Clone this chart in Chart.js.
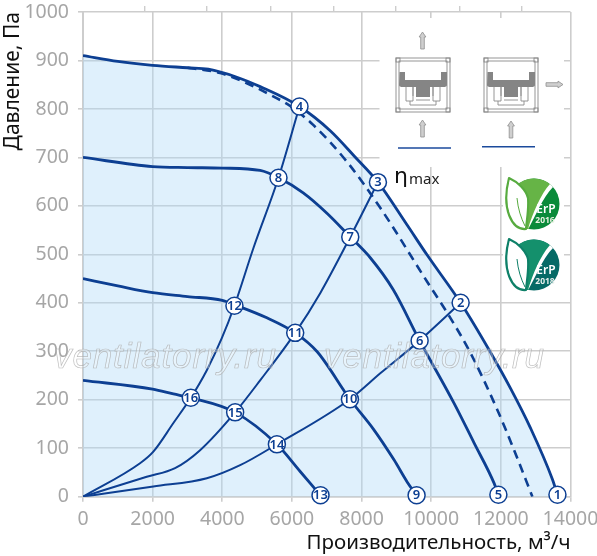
<!DOCTYPE html>
<html>
<head>
<meta charset="utf-8">
<style>
  body { margin: 0; background: #fff; }
  #wrap { position: relative; width: 597px; height: 556px; overflow: hidden; }
  canvas { position: absolute; left: 0; top: 0; }
  svg { position: absolute; left: 0; top: 0; }
</style>
<script src="https://cdn.jsdelivr.net/npm/chart.js@4/dist/chart.umd.min.js"></script>
</head>
<body>
<div id="wrap">
  <canvas id="grafico" width="597" height="556"></canvas>
  <svg width="597" height="556" viewBox="0 0 597 556">
    <defs>
      <g id="arrowUp">
        <path d="M-1.8 17 V5 H-3.4 L0 0 L3.4 5 H1.8 V17 Z" fill="#cfcfcf" stroke="#8f8f8f" stroke-width="0.8"/>
      </g>
      <g id="unit" fill="none" stroke="#8a8a8a" stroke-width="0.9">
        <rect x="0" y="0" width="54" height="54"/>
        <rect x="3" y="3" width="48" height="48"/>
        <rect x="0" y="0" width="4" height="4"/><rect x="50" y="0" width="4" height="4"/>
        <rect x="0" y="50" width="4" height="4"/><rect x="50" y="50" width="4" height="4"/>
        <path d="M10 29 V43 H17 V29 M17 29 V38 M44 29 V43 H37 V29 M37 29 V38 M14 43 V47 H40 V43 M20 42 H34"/>
        <path d="M3.5 14 H9 V22 H45 V14 H51 V27 Q51 29 47 29 H34 V39 H20 V29 H7 Q3 29 3 27 Z" fill="#858585" stroke="none"/>
      </g>
    </defs>

    <!-- esquemas de montaje -->
    <use href="#unit" x="396" y="58"/>
    <use href="#unit" x="484" y="58"/>
    <use href="#arrowUp" x="422.5" y="32"/>
    <use href="#arrowUp" x="422.5" y="120"/>
    <use href="#arrowUp" x="511" y="121"/>
    <use href="#arrowUp" transform="translate(563 84.5) rotate(90)"/>
    <line x1="398" y1="148" x2="451" y2="148" stroke="#1b4a9c" stroke-width="1.6"/>
    <line x1="482" y1="146.7" x2="535" y2="146.7" stroke="#1b4a9c" stroke-width="1.6"/>

    <!-- eta max -->
    <text x="394" y="183" font-family="'DejaVu Sans'" font-size="22" fill="#111">η</text>
    <text x="409" y="184" font-family="'Noto Sans'" font-size="15" fill="#222">max</text>

    <!-- ErP 2016 -->
    <g transform="translate(534 204)">
      <circle r="25.5" fill="#0a8a3a"/>
      <path d="M-18 -18 A25.5 25.5 0 0 1 17 -19 C8 -10 1 6 -5 25 L-9 25 Z" fill="#66b446"/>
      <path d="M16 -20 C7 -10 -1 8 -6 25 C2 12 8 -6 19 -17 Z" fill="#fff"/>
      <path d="M-25 -26 C-16 -22 -8 -14 -6 -6 C-5 4 -7 14 -8 25 C-22 26 -33 5 -25 -26 Z" fill="#fff" stroke="#57ab3f" stroke-width="2.2" stroke-linejoin="round"/>
      <path d="M-17 -6 C-16 5 -13 14 -9 22" fill="none" stroke="#57ab3f" stroke-width="1"/>
      <text x="12" y="9" text-anchor="middle" font-family="'Noto Sans'" font-weight="600" font-size="12" fill="#fff">ErP</text>
      <text x="11" y="19" text-anchor="middle" font-family="'Noto Sans'" font-weight="700" font-size="8.5" fill="#e8f2e0">2016</text>
    </g>
    <!-- ErP 2018 -->
    <g transform="translate(534 265)">
      <circle r="25.5" fill="#066a66"/>
      <path d="M-18 -18 A25.5 25.5 0 0 1 17 -19 C8 -10 1 6 -5 25 L-9 25 Z" fill="#14906c"/>
      <path d="M16 -20 C7 -10 -1 8 -6 25 C2 12 8 -6 19 -17 Z" fill="#fff"/>
      <path d="M-25 -26 C-16 -22 -8 -14 -6 -6 C-5 4 -7 14 -8 25 C-22 26 -33 5 -25 -26 Z" fill="#fff" stroke="#0e8068" stroke-width="2.2" stroke-linejoin="round"/>
      <path d="M-17 -6 C-16 5 -13 14 -9 22" fill="none" stroke="#0e8068" stroke-width="1"/>
      <text x="12" y="9" text-anchor="middle" font-family="'Noto Sans'" font-weight="600" font-size="12" fill="#fff">ErP</text>
      <text x="11" y="19" text-anchor="middle" font-family="'Noto Sans'" font-weight="700" font-size="8.5" fill="#e6efec">2018</text>
    </g>

    <!-- marca de agua -->
    <g font-family="'Liberation Sans'" font-style="italic" font-size="35" fill="rgba(255,255,255,0.25)" stroke="#a9a9a9" stroke-width="0.7" stroke-opacity="0.75">
      <text x="54" y="368" textLength="222">ventilatorry.ru</text>
      <text x="324" y="368" textLength="220">ventilatorry.ru</text>
    </g>
  </svg>
</div>
<script>
// Curvas
const curva1X = [0, 1000, 2000, 3000, 3600, 4400, 5087, 6217, 7100, 7800, 8470, 9304, 9879, 10845, 11700, 12274, 12849, 13480, 13625];
const curva1Y = [910, 898, 890, 885, 882, 866, 846, 805, 755, 702, 649, 561, 499, 400, 298, 224, 142, 36, 4];

const curvaMaxX = [3000, 3940, 4705, 5461, 5950, 6611, 7580, 8537, 9879, 10549, 11124, 11900, 12380, 12906];
const curvaMaxY = [885, 874, 853, 826, 806, 767, 691, 596, 444, 369, 297, 179, 96, 0];

const curva2X = [0, 2000, 3000, 4000, 5087, 5614, 6324, 7005, 7675, 8250, 8911, 9667, 10654, 11230, 11805, 11929];
const curva2Y = [700, 681, 679, 678, 673, 658, 627, 585, 536, 493, 427, 322, 193, 111, 28, 4];

const curva3X = [0, 1000, 2000, 3000, 4000, 4349, 5280, 6094, 6726, 7666, 8355, 8931, 9313, 9580];
const curva3Y = [450, 435, 421, 413, 405, 396, 369, 338, 299, 201, 138, 76, 30, 3];

const curva4X = [0, 2000, 2596, 3096, 4369, 5568, 6237, 6821];
const curva4Y = [240, 222, 212, 204, 174, 108, 52, 3];

const radialAX = [0, 2020, 3556, 4513, 5568, 7666, 8546, 9667, 10845];
const radialAY = [0, 21, 38, 65, 108, 201, 255, 322, 400];

const radialBX = [0, 1830, 2644, 3363, 4369, 5087, 6094, 6812, 7675, 8470];
const radialBY = [0, 41, 59, 96, 174, 240, 338, 420, 536, 649];

const radialCX = [0, 1638, 2020, 2596, 3096, 3556, 3986, 4349, 4895, 5614, 6217];
const radialCY = [0, 69, 93, 152, 204, 261, 327, 394, 513, 658, 805];

// Puntos numerados 1..16
const nodosX = [13625, 10845, 8470, 6217, 11929, 9667, 7675, 5614, 9580, 7666, 6094, 4349, 6821, 5568, 4369, 3096];
const nodosY = [4, 400, 649, 805, 4, 322, 536, 658, 3, 201, 338, 394, 3, 108, 174, 204];
const nodosTxt = ["1", "2", "3", "4", "5", "6", "7", "8", "9", "10", "11", "12", "13", "14", "15", "16"];

const marcasArriba = [1782, 3564, 5404, 7186, 8968, 10808, 12590];

const AZUL = "#0d3f92";
const GRIS = "#cdcdcd";
const TEXTO_GRIS = "#a6a6a6";
const FUENTE = "'Noto Sans'";

function puntos(xs, ys) {
  return xs.map((x, i) => ({ x, y: ys[i] }));
}

function curva(xs, ys, ancho, extra) {
  return Object.assign({
    data: puntos(xs, ys),
    borderColor: AZUL,
    borderWidth: ancho,
    pointRadius: 0,
    fill: false,
    cubicInterpolationMode: "monotone",
    order: 2
  }, extra || {});
}

// tapa la rejilla detras de los esquemas y los logos
const fondoBlanco = {
  id: "fondoBlanco",
  beforeDatasetsDraw(chart) {
    const c = chart.ctx;
    c.save();
    c.fillStyle = "#fff";
    c.fillRect(379.5, 18, 184.5, 149);
    c.fillRect(503, 167, 61, 133);
    c.restore();
  }
};

const numeros = {
  id: "numeros",
  afterDatasetsDraw(chart) {
    const c = chart.ctx;
    const sx = chart.scales.x, sy = chart.scales.y;
    c.save();
    c.fillStyle = AZUL;
    c.font = "600 13px " + FUENTE;
    c.textAlign = "center";
    c.textBaseline = "middle";
    nodosTxt.forEach((t, i) => {
      c.fillText(t, sx.getPixelForValue(nodosX[i]), sy.getPixelForValue(nodosY[i]) + 0.5);
    });
    c.restore();
  }
};

new Chart(document.getElementById("grafico"), {
  type: "line",
  data: {
    datasets: [
      curva(curva1X, curva1Y, 2.8, { fill: "origin", backgroundColor: "rgba(175,217,247,0.4)", order: 5 }),
      curva(curvaMaxX, curvaMaxY, 2.6, { borderDash: [9, 6], order: 4 }),
      curva(curva2X, curva2Y, 2.8),
      curva(curva3X, curva3Y, 2.8),
      curva(curva4X, curva4Y, 2.8),
      curva(radialAX, radialAY, 2),
      curva(radialBX, radialBY, 2),
      curva(radialCX, radialCY, 2),
      {
        data: puntos(nodosX, nodosY),
        showLine: false,
        pointRadius: 8.5,
        pointBackgroundColor: "#fff",
        pointBorderColor: AZUL,
        pointBorderWidth: 1.5,
        clip: false,
        order: 1
      }
    ]
  },
  options: {
    responsive: false,
    animation: false,
    layout: { padding: { top: 12, right: 26.5, left: 0, bottom: 0 } },
    plugins: { legend: { display: false }, tooltip: { enabled: false } },
    scales: {
      x: {
        type: "linear",
        min: 0,
        max: 14000,
        afterFit(s) { s.height = 59.3; s.paddingLeft = 0; s.paddingRight = 0; },
        ticks: {
          stepSize: 2000,
          maxRotation: 0,
          padding: 6,
          color: TEXTO_GRIS,
          font: { family: FUENTE, size: 19.5 },
          callback: v => String(v)
        },
        grid: { color: GRIS, lineWidth: 1.6, tickLength: 5 },
        border: { color: GRIS, width: 1.6 },
        title: {
          display: true,
          text: "Производительность, м³/ч",
          align: "end",
          color: "#111",
          padding: { top: 0, bottom: 1 },
          font: { family: FUENTE, size: 20.5 }
        }
      },
      x2: {
        type: "linear",
        position: "top",
        min: 0,
        max: 14000,
        afterFit(s) { s.height = 0; s.paddingLeft = 0; s.paddingRight = 0; },
        afterBuildTicks(s) { s.ticks = marcasArriba.map(v => ({ value: v })); },
        ticks: { display: false },
        grid: { color: GRIS, lineWidth: 1.4, drawOnChartArea: false, tickLength: 6 },
        border: { display: false }
      },
      y: {
        min: 0,
        max: 1000,
        afterFit(s) { s.width = 83; s.paddingTop = 0; s.paddingBottom = 0; },
        ticks: {
          stepSize: 100,
          padding: 9,
          color: TEXTO_GRIS,
          font: { family: FUENTE, size: 19.5 },
          callback: v => String(v)
        },
        grid: { color: GRIS, lineWidth: 1.6, tickLength: 5 },
        border: { color: GRIS, width: 2 },
        title: {
          display: true,
          text: "Давление, Па",
          align: "end",
          color: "#111",
          padding: { top: 0, bottom: 0 },
          font: { family: FUENTE, size: 21 }
        }
      }
    }
  },
  plugins: [fondoBlanco, numeros]
});
</script>
</body>
</html>
